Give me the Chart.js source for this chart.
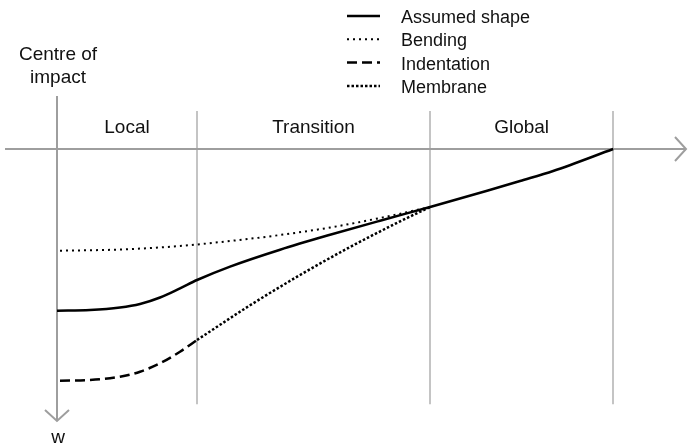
<!DOCTYPE html>
<html>
<head>
<meta charset="utf-8">
<script src="https://cdn.jsdelivr.net/npm/chart.js@4/dist/chart.umd.min.js"></script>
<style>
  body { margin: 0; background: #fff; }
  #wrap { width: 696px; height: 446px; }
</style>
</head>
<body>
<div id="wrap"><canvas id="myChart" width="696" height="446"></canvas></div>
<script>
// distance from centre of impact (0..100 = end of global zone) and deflection w (0 at surface, grows downward)
const zoneEdges = [0, 25.18, 67.09, 100];
const zoneLabels = ['Local', 'Transition', 'Global'];

const assumedX = [0, 5.94, 11.33, 14.93, 18.53, 22.12, 25.18, 31.12, 40.11, 49.10, 58.09, 67.09, 77.34, 83.27, 89.21, 100];
const assumedW = [69.70, 69.40, 68.32, 66.81, 64.01, 60.04, 56.47, 50.69, 43.41, 36.98, 30.91, 25.00, 18.02, 13.79, 9.48, 0];

const bendingX = [0.54, 11.33, 22.12, 31.12, 40.11, 49.10, 58.09, 67.09];
const bendingW = [43.84, 43.32, 41.81, 39.66, 37.07, 33.84, 29.74, 25.00];

const indentX = [0.54, 5.94, 11.33, 14.93, 18.53, 22.12, 25.18];
const indentW = [99.87, 99.57, 98.15, 95.99, 92.37, 87.37, 82.33];

const membraneX = [25.18, 34.71, 43.71, 52.70, 61.69, 67.09];
const membraneW = [82.33, 67.37, 54.31, 42.24, 31.21, 25.00];

const seriesNames = ['Assumed shape', 'Bending', 'Indentation', 'Membrane'];

function pts(xs, ws) {
    return xs.map((x, i) => ({ x: x, y: ws[i] }));
}

const FONT = '"Liberation Sans", Arial, sans-serif';

document.addEventListener('DOMContentLoaded', function () {
    const data = {
        datasets: [
            { label: seriesNames[0], data: pts(assumedX, assumedW), borderWidth: 2.5, borderDash: [] },
            { label: seriesNames[1], data: pts(bendingX, bendingW), borderWidth: 2, borderDash: [2, 4] },
            { label: seriesNames[2], data: pts(indentX, indentW), borderWidth: 2.5, borderDash: [10, 5] },
            { label: seriesNames[3], data: pts(membraneX, membraneW), borderWidth: 2.5, borderDash: [2.5, 2] }
        ].map(ds => Object.assign(ds, {
            borderColor: '#000',
            pointRadius: 0,
            cubicInterpolationMode: 'monotone',
            fill: false
        }))
    };

    // axes, zone dividers, texts and legend
    const overlay = {
        id: 'overlay',
        beforeDatasetsDraw(chart) {
            const ctx = chart.ctx;
            const xs = chart.scales.x, ys = chart.scales.y, area = chart.chartArea;
            const x0 = xs.getPixelForValue(0), y0 = ys.getPixelForValue(0);
            ctx.save();
            ctx.lineWidth = 2;
            // zone dividers
            ctx.strokeStyle = '#c4c4c4';
            zoneEdges.slice(1).forEach(v => {
                const px = Math.round(xs.getPixelForValue(v));
                ctx.beginPath();
                ctx.moveTo(px, ys.getPixelForValue(-16.4));
                ctx.lineTo(px, ys.getPixelForValue(110));
                ctx.stroke();
            });
            // horizontal axis with arrow
            ctx.strokeStyle = '#9e9e9e';
            ctx.beginPath();
            ctx.moveTo(area.left, y0);
            ctx.lineTo(area.right, y0);
            ctx.moveTo(area.right - 11, y0 - 12);
            ctx.lineTo(area.right, y0);
            ctx.lineTo(area.right - 11, y0 + 12);
            ctx.stroke();
            // vertical axis (w) with arrow
            ctx.beginPath();
            ctx.moveTo(x0, area.top);
            ctx.lineTo(x0, area.bottom);
            ctx.moveTo(x0 - 12, area.bottom - 11);
            ctx.lineTo(x0, area.bottom);
            ctx.lineTo(x0 + 12, area.bottom - 11);
            ctx.stroke();
            ctx.restore();
        },
        afterDatasetsDraw(chart) {
            const ctx = chart.ctx;
            const xs = chart.scales.x;
            const x0 = xs.getPixelForValue(0);
            ctx.save();
            ctx.fillStyle = '#111';
            ctx.textAlign = 'center';
            ctx.textBaseline = 'alphabetic';
            ctx.font = '19px ' + FONT;
            ctx.fillText('Centre of', x0 + 1, 60);
            ctx.fillText('impact', x0 + 1, 83);
            ctx.fillText('w', x0 + 1, 443);
            zoneLabels.forEach((lab, i) => {
                const cx = (xs.getPixelForValue(zoneEdges[i]) + xs.getPixelForValue(zoneEdges[i + 1])) / 2;
                ctx.fillText(lab, cx, 133);
            });
            // legend
            ctx.textAlign = 'left';
            ctx.font = '18px ' + FONT;
            chart.data.datasets.forEach((ds, i) => {
                const base = 23 + i * 23.3;
                ctx.save();
                ctx.strokeStyle = ds.borderColor;
                ctx.lineWidth = ds.borderWidth;
                ctx.setLineDash(ds.borderDash);
                ctx.beginPath();
                ctx.moveTo(347, base - 7);
                ctx.lineTo(380, base - 7);
                ctx.stroke();
                ctx.restore();
                ctx.fillText(ds.label, 401, base);
            });
            ctx.restore();
        }
    };

    const options = {
        responsive: false,
        animation: false,
        layout: { padding: { left: 5, right: 10, top: 96, bottom: 25 } },
        scales: {
            x: { type: 'linear', display: false, min: -9.35, max: 113.1 },
            y: { type: 'linear', display: false, reverse: true, min: -22.84, max: 117.24 }
        },
        plugins: {
            legend: { display: false },
            tooltip: { enabled: false }
        }
    };

    const ctx = document.getElementById('myChart').getContext('2d');
    new Chart(ctx, {
        type: 'line',
        data: data,
        options: options,
        plugins: [overlay]
    });
});
</script>
</body>
</html>
